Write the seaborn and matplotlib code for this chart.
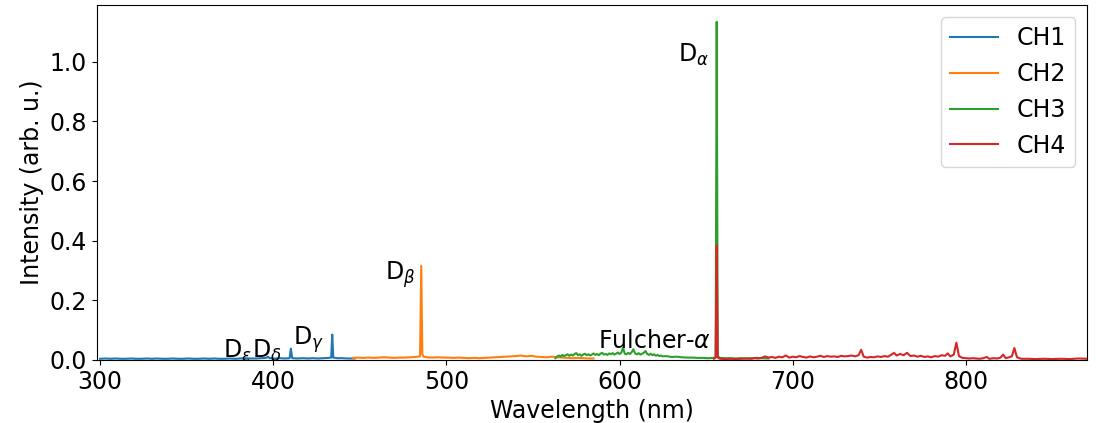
import matplotlib
matplotlib.use("Agg")
import matplotlib.pyplot as plt
import seaborn as sns

# ---------------- data ----------------
channels = ["CH1", "CH2", "CH3", "CH4"]

ch1_wl = [300, 303, 306, 309, 312, 315, 318, 321, 324, 327,
          330, 333, 336, 339, 342, 345, 348, 351, 354, 357,
          360, 363, 366, 369, 372, 375, 378, 381, 384, 387,
          390, 393, 396, 397, 398, 401, 404, 407, 409.5, 410.2,
          411, 414, 417, 420, 423, 426, 429, 432, 433.5, 434.1,
          434.7, 437, 440, 443, 447]
ch1_int = [0.004, 0.005, 0.004, 0.005, 0.004, 0.004, 0.005, 0.004, 0.004, 0.005,
           0.004, 0.005, 0.004, 0.004, 0.005, 0.004, 0.004, 0.005, 0.004, 0.004,
           0.005, 0.004, 0.005, 0.004, 0.004, 0.005, 0.004, 0.005, 0.006, 0.005,
           0.005, 0.006, 0.007, 0.011, 0.006, 0.005, 0.006, 0.005, 0.006, 0.038,
           0.006, 0.005, 0.006, 0.005, 0.006, 0.005, 0.006, 0.007, 0.008, 0.085,
           0.008, 0.006, 0.006, 0.005, 0.005]

ch2_wl = [446, 449, 452, 455, 458, 461, 464, 467, 470, 473,
          476, 479, 482, 484.8, 485.5, 486.1, 486.8, 489, 492, 495,
          498, 501, 504, 507, 510, 513, 516, 519, 522, 525,
          528, 531, 534, 537, 540, 543, 546, 549, 552, 555,
          558, 561, 564, 567, 570, 573, 576, 579, 582, 585]
ch2_int = [0.007, 0.008, 0.007, 0.008, 0.007, 0.008, 0.009, 0.008, 0.007, 0.008,
           0.008, 0.009, 0.010, 0.012, 0.316, 0.020, 0.011, 0.009, 0.008, 0.009,
           0.008, 0.008, 0.007, 0.008, 0.007, 0.006, 0.007, 0.006, 0.007, 0.008,
           0.009, 0.010, 0.011, 0.012, 0.013, 0.015, 0.012, 0.014, 0.011, 0.010,
           0.009, 0.011, 0.009, 0.008, 0.007, 0.006, 0.007, 0.006, 0.005, 0.005]

ch3_wl = [563, 564, 565, 566, 567, 568, 569, 570, 571, 572,
          573, 574, 575, 576, 577, 578, 579, 580, 581, 582,
          583, 584, 585, 586, 587, 588, 589, 590, 591, 592,
          593, 594, 595, 596, 597, 598, 599, 600, 601, 602,
          603, 604, 605, 606, 607, 608, 609, 610, 611, 612,
          613, 614, 615, 616, 617, 618, 619, 620, 621, 622,
          623, 624, 625, 627, 630, 633, 636, 639, 642, 645,
          648, 651, 654.5, 655.5, 656.1, 656.7, 658, 661, 664, 667,
          670, 673, 676, 679, 682, 686]
ch3_int = [0.006, 0.012, 0.015, 0.011, 0.017, 0.013, 0.016, 0.019, 0.014, 0.018,
           0.015, 0.020, 0.023, 0.016, 0.019, 0.014, 0.018, 0.021, 0.016, 0.019,
           0.015, 0.018, 0.022, 0.017, 0.020, 0.016, 0.021, 0.024, 0.018, 0.020,
           0.017, 0.022, 0.019, 0.023, 0.018, 0.021, 0.025, 0.020, 0.024, 0.042,
           0.021, 0.019, 0.024, 0.020, 0.026, 0.036, 0.022, 0.019, 0.023, 0.018,
           0.021, 0.024, 0.030, 0.020, 0.017, 0.021, 0.016, 0.019, 0.014, 0.017,
           0.013, 0.015, 0.012, 0.013, 0.010, 0.011, 0.009, 0.008, 0.008, 0.007,
           0.007, 0.006, 0.007, 0.010, 1.134, 0.012, 0.007, 0.006, 0.006, 0.005,
           0.006, 0.005, 0.006, 0.007, 0.006, 0.005]

ch4_wl = [654.5, 655.5, 656.1, 656.7, 658, 661, 664, 667, 670, 673,
          676, 678, 680, 682, 684, 686, 688, 690, 692, 694,
          696, 698, 700, 702, 704, 706, 708, 710, 712, 714,
          716, 718, 720, 722, 724, 726, 728, 730, 732, 734,
          736, 738, 739.5, 741, 743, 745, 747, 749, 751, 753,
          755, 757, 758.5, 760, 762, 764, 766, 768, 770, 772,
          774, 776, 778, 780, 782, 784, 786, 788, 789.5, 791,
          793, 794.5, 796, 798, 800, 802, 804, 806, 808, 810,
          812, 813.5, 816, 818, 820, 821.5, 823, 825, 826.5, 828,
          829.5, 832, 836, 840, 845, 850, 855, 860, 865, 870]
ch4_int = [0.004, 0.008, 0.385, 0.008, 0.004, 0.003, 0.004, 0.003, 0.004, 0.005,
           0.004, 0.006, 0.005, 0.007, 0.012, 0.008, 0.010, 0.007, 0.011, 0.009,
           0.015, 0.008, 0.011, 0.009, 0.013, 0.010, 0.008, 0.012, 0.009, 0.011,
           0.014, 0.010, 0.013, 0.011, 0.012, 0.010, 0.014, 0.012, 0.013, 0.015,
           0.012, 0.016, 0.034, 0.011, 0.008, 0.010, 0.009, 0.012, 0.010, 0.013,
           0.011, 0.018, 0.024, 0.015, 0.020, 0.016, 0.024, 0.013, 0.015, 0.011,
           0.014, 0.010, 0.012, 0.009, 0.013, 0.011, 0.016, 0.014, 0.022, 0.012,
           0.018, 0.058, 0.013, 0.007, 0.006, 0.005, 0.006, 0.005, 0.004, 0.006,
           0.010, 0.004, 0.006, 0.005, 0.008, 0.018, 0.006, 0.009, 0.012, 0.040,
           0.009, 0.004, 0.004, 0.003, 0.004, 0.003, 0.004, 0.003, 0.005, 0.004]

line_labels = ["D$_\\epsilon$", "D$_\\delta$", "D$_\\gamma$", "D$_\\beta$",
               "D$_\\alpha$", "Fulcher-$\\alpha$"]
label_x = [387.9, 387.9, 411.5, 464.5, 633.5, 587.5]
label_y = [0.008, 0.008, 0.05, 0.27, 1.0, 0.04]
label_ha = ["right", "left", "left", "left", "left", "left"]

# ---------------- plot ----------------
plt.rcParams["font.size"] = 17
fig, ax = plt.subplots(figsize=(10.97, 4.23), dpi=100)
palette = sns.color_palette("tab10", 4)

series = [(ch1_wl, ch1_int), (ch2_wl, ch2_int), (ch3_wl, ch3_int), (ch4_wl, ch4_int)]
for (wl, val), name, col in zip(series, channels, palette):
    sns.lineplot(x=wl, y=val, ax=ax, color=col, label=name, linewidth=1.5,
                 estimator=None, sort=False)

for t, x, y, ha in zip(line_labels, label_x, label_y, label_ha):
    ax.text(x, y, t, ha=ha, va="baseline", fontsize=17)

ax.set_xlim(298, 870)
ax.set_ylim(0, 1.19)
ax.set_xticks([300, 400, 500, 600, 700, 800])
ax.set_yticks([0.0, 0.2, 0.4, 0.6, 0.8, 1.0])
ax.set_xlabel("Wavelength (nm)")
ax.set_ylabel("Intensity (arb. u.)")
ax.legend(loc="upper right", fontsize=17)

fig.subplots_adjust(left=0.088, right=0.991, top=0.988, bottom=0.149)
fig.savefig("out.png", dpi=100)
